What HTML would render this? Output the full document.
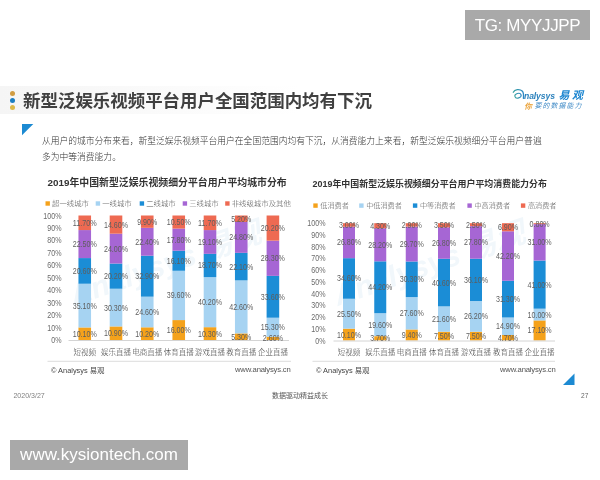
<!DOCTYPE html>
<html lang="zh"><head><meta charset="utf-8"><title>slide</title>
<style>
html,body{margin:0;padding:0;background:#fff;}
body{width:600px;height:480px;position:relative;overflow:hidden;font-family:"Liberation Sans","Noto Sans CJK SC",sans-serif;}
.abs{position:absolute;white-space:nowrap;}
.badge{position:absolute;background:#a9a9a9;color:#fff;font-size:17px;}
svg text{font-family:"Liberation Sans","Noto Sans CJK SC",sans-serif;}
.yl{font-size:8.5px;fill:#6b6b6b;}
.dl{font-size:8.5px;fill:#5e5e5e;}
.cl{font-size:7.5px;fill:#3a3a3a;font-weight:300;}
.lg{font-size:7.4px;fill:#555;font-weight:300;}
</style></head><body>
<div class="abs" style="left:0;top:86px;width:300px;height:28px;background:linear-gradient(90deg,#f5f5f5 0%,#fafafa 50%,#fff 100%);"></div>
<div class="badge" style="left:465px;top:10px;width:125px;height:30px;line-height:31.5px;text-align:center;letter-spacing:-0.35px;">TG: MYYJJPP</div>
<div class="badge" style="left:10px;top:440px;width:178px;height:30px;line-height:30px;text-align:center;">www.kysiontech.com</div>
<div class="abs" style="left:10.4px;top:90.9px;width:5px;height:5px;border-radius:50%;background:#d09c42;"></div>
<div class="abs" style="left:10.4px;top:98.1px;width:5px;height:5px;border-radius:50%;background:#1c7fc2;"></div>
<div class="abs" style="left:10.4px;top:105.2px;width:5px;height:5px;border-radius:50%;background:#dcb94a;"></div>
<div class="abs" style="left:23.1px;top:88px;font-size:17.46px;font-weight:bold;color:#404040;line-height:26px;">新型泛娱乐视频平台用户全国范围内均有下沉</div>
<div class="abs" style="left:42px;top:133px;font-size:8.78px;font-weight:300;color:#303030;line-height:16px;">从用户的城市分布来看，新型泛娱乐视频平台用户在全国范围内均有下沉，从消费能力上来看，新型泛娱乐视频细分平台用户普遍<br>多为中等消费能力。</div>
<div class="abs" style="left:47.5px;top:175px;font-size:9.9px;font-weight:bold;color:#333;line-height:15px;">2019年中国新型泛娱乐视频细分平台用户平均城市分布</div>
<div class="abs" style="left:312.5px;top:176.5px;font-size:8.95px;font-weight:bold;color:#333;line-height:15px;">2019年中国新型泛娱乐视频细分平台用户平均消费能力分布</div>
<div class="abs" style="left:51px;top:364.5px;font-size:7.4px;color:#444;line-height:12px;">© Analysys 易观</div>
<div class="abs" style="left:235px;top:364px;font-size:7.7px;letter-spacing:-0.2px;color:#555;line-height:12px;">www.analysys.cn</div>
<div class="abs" style="left:316px;top:364.5px;font-size:7.4px;color:#444;line-height:12px;">© Analysys 易观</div>
<div class="abs" style="left:500px;top:364px;font-size:7.7px;letter-spacing:-0.2px;color:#555;line-height:12px;">www.analysys.cn</div>
<div class="abs" style="left:13.4px;top:390px;font-size:7.05px;color:#808080;line-height:11px;">2020/3/27</div>
<div class="abs" style="left:272px;top:390px;font-size:7px;color:#555;line-height:11px;">数据驱动精益成长</div>
<div class="abs" style="left:581px;top:390px;font-size:6.6px;color:#666;line-height:11px;">27</div>
<svg class="abs" style="left:0;top:0" width="600" height="480" viewBox="0 0 600 480">
<defs><linearGradient id="sw" x1="0" y1="0" x2="1" y2="0"><stop offset="0" stop-color="#3aa3a0"/><stop offset="1" stop-color="#2b86c4"/></linearGradient></defs>
<path d="M513.3,92.2 C514.6,89.4 519.6,88.7 522.2,91 C523.8,92.6 523.7,95.6 523.4,98.4" fill="none" stroke="url(#sw)" stroke-width="1.3" stroke-linecap="round"/>
<ellipse cx="518" cy="95.7" rx="3.2" ry="2.3" transform="rotate(-18 518 95.7)" fill="none" stroke="url(#sw)" stroke-width="1.1"/>
<text x="524" y="98.6" style="font-size:8.6px;font-style:italic;font-weight:bold;fill:#2c82bd;letter-spacing:-0.1px">nalysys</text>
<text x="558.5" y="99.2" style="font-size:11px;font-style:italic;font-weight:bold;fill:#1d86d0;letter-spacing:2.4px">易观</text>
<text x="524.3" y="108.6" style="font-size:7.6px;font-style:italic;font-weight:bold;fill:#eba43c">你</text>
<text x="534.6" y="108.4" style="font-size:6.9px;font-style:italic;fill:#3f8ac6;letter-spacing:1.1px">要的数据能力</text>
<polygon points="22,124 33.3,124 22,135.3" fill="#1c8ad2"/>
<polygon points="563,385 574.5,385 574.5,373.5" fill="#1c8ad2"/>
<line x1="47.5" x2="291" y1="361.3" y2="361.3" stroke="#dcdcdc" stroke-width="1"/>
<line x1="312.5" x2="555" y1="361.3" y2="361.3" stroke="#dcdcdc" stroke-width="1"/>
<text transform="translate(74,306) rotate(-19)" style="font-size:30px;font-style:italic;font-weight:bold;fill:#f1f7fb">Analysys 易观</text>
<text transform="translate(338,306) rotate(-19)" style="font-size:30px;font-style:italic;font-weight:bold;fill:#f1f7fb">Analysys 易观</text>
<rect x="45.5" y="201.3" width="4.4" height="4.4" fill="#f5a21b"/>
<text x="52.0" y="206.0" class="lg" style="font-size:7.4px">超一线城市</text>
<rect x="95.7" y="201.3" width="4.4" height="4.4" fill="#a6d3f2"/>
<text x="102.2" y="206.0" class="lg" style="font-size:7.4px">一线城市</text>
<rect x="139.70000000000002" y="201.3" width="4.4" height="4.4" fill="#1b8dd6"/>
<text x="146.20000000000002" y="206.0" class="lg" style="font-size:7.4px">二线城市</text>
<rect x="182.70000000000002" y="201.3" width="4.4" height="4.4" fill="#a666d4"/>
<text x="189.20000000000002" y="206.0" class="lg" style="font-size:7.4px">三线城市</text>
<rect x="225.20000000000002" y="201.3" width="4.4" height="4.4" fill="#ee6a52"/>
<text x="231.70000000000002" y="206.0" class="lg" style="font-size:7.4px">非线级城市及其他</text>
<rect x="313.29999999999995" y="203.4" width="4.4" height="4.4" fill="#f5a21b"/>
<text x="320.29999999999995" y="207.6" class="lg" style="font-size:7.15px">低消费者</text>
<rect x="359.2" y="203.4" width="4.4" height="4.4" fill="#a6d3f2"/>
<text x="366.2" y="207.6" class="lg" style="font-size:7.15px">中低消费者</text>
<rect x="412.9" y="203.4" width="4.4" height="4.4" fill="#1b8dd6"/>
<text x="419.9" y="207.6" class="lg" style="font-size:7.15px">中等消费者</text>
<rect x="467.4" y="203.4" width="4.4" height="4.4" fill="#a666d4"/>
<text x="474.4" y="207.6" class="lg" style="font-size:7.15px">中高消费者</text>
<rect x="520.9" y="203.4" width="4.4" height="4.4" fill="#ee6a52"/>
<text x="527.9" y="207.6" class="lg" style="font-size:7.15px">高消费者</text>
<text x="61.5" y="343.00" class="yl" text-anchor="end" textLength="10.26" lengthAdjust="spacingAndGlyphs">0%</text>
<text x="61.5" y="330.55" class="yl" text-anchor="end" textLength="14.21" lengthAdjust="spacingAndGlyphs">10%</text>
<text x="61.5" y="318.10" class="yl" text-anchor="end" textLength="14.21" lengthAdjust="spacingAndGlyphs">20%</text>
<text x="61.5" y="305.65" class="yl" text-anchor="end" textLength="14.21" lengthAdjust="spacingAndGlyphs">30%</text>
<text x="61.5" y="293.20" class="yl" text-anchor="end" textLength="14.21" lengthAdjust="spacingAndGlyphs">40%</text>
<text x="61.5" y="280.75" class="yl" text-anchor="end" textLength="14.21" lengthAdjust="spacingAndGlyphs">50%</text>
<text x="61.5" y="268.30" class="yl" text-anchor="end" textLength="14.21" lengthAdjust="spacingAndGlyphs">60%</text>
<text x="61.5" y="255.85" class="yl" text-anchor="end" textLength="14.21" lengthAdjust="spacingAndGlyphs">70%</text>
<text x="61.5" y="243.40" class="yl" text-anchor="end" textLength="14.21" lengthAdjust="spacingAndGlyphs">80%</text>
<text x="61.5" y="230.95" class="yl" text-anchor="end" textLength="14.21" lengthAdjust="spacingAndGlyphs">90%</text>
<text x="61.5" y="218.50" class="yl" text-anchor="end" textLength="18.15" lengthAdjust="spacingAndGlyphs">100%</text>
<rect x="78.45" y="327.43" width="12.6" height="12.57" fill="#f5a21b"/>
<rect x="78.45" y="283.73" width="12.6" height="43.70" fill="#a6d3f2"/>
<rect x="78.45" y="258.08" width="12.6" height="25.65" fill="#1b8dd6"/>
<rect x="78.45" y="230.07" width="12.6" height="28.01" fill="#a666d4"/>
<rect x="78.45" y="215.50" width="12.6" height="14.57" fill="#ee6a52"/>
<rect x="109.70" y="326.43" width="12.6" height="13.57" fill="#f5a21b"/>
<rect x="109.70" y="288.71" width="12.6" height="37.72" fill="#a6d3f2"/>
<rect x="109.70" y="263.56" width="12.6" height="25.15" fill="#1b8dd6"/>
<rect x="109.70" y="233.68" width="12.6" height="29.88" fill="#a666d4"/>
<rect x="109.70" y="215.50" width="12.6" height="18.18" fill="#ee6a52"/>
<rect x="140.95" y="327.30" width="12.6" height="12.70" fill="#f5a21b"/>
<rect x="140.95" y="296.67" width="12.6" height="30.63" fill="#a6d3f2"/>
<rect x="140.95" y="255.71" width="12.6" height="40.96" fill="#1b8dd6"/>
<rect x="140.95" y="227.83" width="12.6" height="27.89" fill="#a666d4"/>
<rect x="140.95" y="215.50" width="12.6" height="12.33" fill="#ee6a52"/>
<rect x="172.45" y="320.08" width="12.6" height="19.92" fill="#f5a21b"/>
<rect x="172.45" y="270.78" width="12.6" height="49.30" fill="#a6d3f2"/>
<rect x="172.45" y="250.73" width="12.6" height="20.04" fill="#1b8dd6"/>
<rect x="172.45" y="228.57" width="12.6" height="22.16" fill="#a666d4"/>
<rect x="172.45" y="215.50" width="12.6" height="13.07" fill="#ee6a52"/>
<rect x="203.70" y="327.18" width="12.6" height="12.82" fill="#f5a21b"/>
<rect x="203.70" y="277.13" width="12.6" height="50.05" fill="#a6d3f2"/>
<rect x="203.70" y="253.85" width="12.6" height="23.28" fill="#1b8dd6"/>
<rect x="203.70" y="230.07" width="12.6" height="23.78" fill="#a666d4"/>
<rect x="203.70" y="215.50" width="12.6" height="14.57" fill="#ee6a52"/>
<rect x="234.95" y="333.40" width="12.6" height="6.60" fill="#f5a21b"/>
<rect x="234.95" y="280.36" width="12.6" height="53.04" fill="#a6d3f2"/>
<rect x="234.95" y="252.85" width="12.6" height="27.51" fill="#1b8dd6"/>
<rect x="234.95" y="221.97" width="12.6" height="30.88" fill="#a666d4"/>
<rect x="234.95" y="215.50" width="12.6" height="6.47" fill="#ee6a52"/>
<rect x="266.60" y="336.76" width="12.6" height="3.24" fill="#f5a21b"/>
<rect x="266.60" y="317.71" width="12.6" height="19.05" fill="#a6d3f2"/>
<rect x="266.60" y="275.88" width="12.6" height="41.83" fill="#1b8dd6"/>
<rect x="266.60" y="240.65" width="12.6" height="35.23" fill="#a666d4"/>
<rect x="266.60" y="215.50" width="12.6" height="25.15" fill="#ee6a52"/>
<line x1="68.5" x2="289" y1="340.5" y2="340.5" stroke="#d4d4d4" stroke-width="1"/>
<text x="84.75" y="336.71" class="dl" text-anchor="middle" textLength="24.08" lengthAdjust="spacingAndGlyphs">10.10%</text>
<text x="84.75" y="308.58" class="dl" text-anchor="middle" textLength="24.08" lengthAdjust="spacingAndGlyphs">35.10%</text>
<text x="84.75" y="273.90" class="dl" text-anchor="middle" textLength="24.08" lengthAdjust="spacingAndGlyphs">20.60%</text>
<text x="84.75" y="247.07" class="dl" text-anchor="middle" textLength="24.08" lengthAdjust="spacingAndGlyphs">22.50%</text>
<text x="84.75" y="225.78" class="dl" text-anchor="middle" textLength="24.08" lengthAdjust="spacingAndGlyphs">11.70%</text>
<text x="84.75" y="355" class="cl" text-anchor="middle">短视频</text>
<text x="116.00" y="336.21" class="dl" text-anchor="middle" textLength="24.08" lengthAdjust="spacingAndGlyphs">10.90%</text>
<text x="116.00" y="310.57" class="dl" text-anchor="middle" textLength="24.08" lengthAdjust="spacingAndGlyphs">30.30%</text>
<text x="116.00" y="279.13" class="dl" text-anchor="middle" textLength="24.08" lengthAdjust="spacingAndGlyphs">20.20%</text>
<text x="116.00" y="251.62" class="dl" text-anchor="middle" textLength="24.08" lengthAdjust="spacingAndGlyphs">24.00%</text>
<text x="116.00" y="227.59" class="dl" text-anchor="middle" textLength="24.08" lengthAdjust="spacingAndGlyphs">14.60%</text>
<text x="116.00" y="355" class="cl" text-anchor="middle">娱乐直播</text>
<text x="147.25" y="336.65" class="dl" text-anchor="middle" textLength="24.08" lengthAdjust="spacingAndGlyphs">10.20%</text>
<text x="147.25" y="314.99" class="dl" text-anchor="middle" textLength="24.08" lengthAdjust="spacingAndGlyphs">24.60%</text>
<text x="147.25" y="279.19" class="dl" text-anchor="middle" textLength="24.08" lengthAdjust="spacingAndGlyphs">32.90%</text>
<text x="147.25" y="244.77" class="dl" text-anchor="middle" textLength="24.08" lengthAdjust="spacingAndGlyphs">22.40%</text>
<text x="147.25" y="224.66" class="dl" text-anchor="middle" textLength="20.13" lengthAdjust="spacingAndGlyphs">9.90%</text>
<text x="147.25" y="355" class="cl" text-anchor="middle">电商直播</text>
<text x="178.75" y="333.04" class="dl" text-anchor="middle" textLength="24.08" lengthAdjust="spacingAndGlyphs">16.00%</text>
<text x="178.75" y="298.43" class="dl" text-anchor="middle" textLength="24.08" lengthAdjust="spacingAndGlyphs">39.60%</text>
<text x="178.75" y="263.76" class="dl" text-anchor="middle" textLength="24.08" lengthAdjust="spacingAndGlyphs">16.10%</text>
<text x="178.75" y="242.65" class="dl" text-anchor="middle" textLength="24.08" lengthAdjust="spacingAndGlyphs">17.80%</text>
<text x="178.75" y="225.04" class="dl" text-anchor="middle" textLength="24.08" lengthAdjust="spacingAndGlyphs">10.50%</text>
<text x="178.75" y="355" class="cl" text-anchor="middle">体育直播</text>
<text x="210.00" y="336.59" class="dl" text-anchor="middle" textLength="24.08" lengthAdjust="spacingAndGlyphs">10.30%</text>
<text x="210.00" y="305.15" class="dl" text-anchor="middle" textLength="24.08" lengthAdjust="spacingAndGlyphs">40.20%</text>
<text x="210.00" y="268.49" class="dl" text-anchor="middle" textLength="24.08" lengthAdjust="spacingAndGlyphs">18.70%</text>
<text x="210.00" y="244.96" class="dl" text-anchor="middle" textLength="24.08" lengthAdjust="spacingAndGlyphs">19.10%</text>
<text x="210.00" y="225.78" class="dl" text-anchor="middle" textLength="24.08" lengthAdjust="spacingAndGlyphs">11.70%</text>
<text x="210.00" y="355" class="cl" text-anchor="middle">游戏直播</text>
<text x="241.25" y="339.70" class="dl" text-anchor="middle" textLength="20.13" lengthAdjust="spacingAndGlyphs">5.30%</text>
<text x="241.25" y="309.88" class="dl" text-anchor="middle" textLength="24.08" lengthAdjust="spacingAndGlyphs">42.60%</text>
<text x="241.25" y="269.61" class="dl" text-anchor="middle" textLength="24.08" lengthAdjust="spacingAndGlyphs">22.10%</text>
<text x="241.25" y="240.41" class="dl" text-anchor="middle" textLength="24.08" lengthAdjust="spacingAndGlyphs">24.80%</text>
<text x="241.25" y="221.74" class="dl" text-anchor="middle" textLength="20.13" lengthAdjust="spacingAndGlyphs">5.20%</text>
<text x="241.25" y="355" class="cl" text-anchor="middle">教育直播</text>
<text x="272.90" y="341.38" class="dl" text-anchor="middle" textLength="20.13" lengthAdjust="spacingAndGlyphs">2.60%</text>
<text x="272.90" y="330.24" class="dl" text-anchor="middle" textLength="24.08" lengthAdjust="spacingAndGlyphs">15.30%</text>
<text x="272.90" y="299.80" class="dl" text-anchor="middle" textLength="24.08" lengthAdjust="spacingAndGlyphs">33.60%</text>
<text x="272.90" y="261.27" class="dl" text-anchor="middle" textLength="24.08" lengthAdjust="spacingAndGlyphs">28.30%</text>
<text x="272.90" y="231.07" class="dl" text-anchor="middle" textLength="24.08" lengthAdjust="spacingAndGlyphs">20.20%</text>
<text x="272.90" y="355" class="cl" text-anchor="middle">企业直播</text>
<text x="325.5" y="343.50" class="yl" text-anchor="end" textLength="10.26" lengthAdjust="spacingAndGlyphs">0%</text>
<text x="325.5" y="331.77" class="yl" text-anchor="end" textLength="14.21" lengthAdjust="spacingAndGlyphs">10%</text>
<text x="325.5" y="320.04" class="yl" text-anchor="end" textLength="14.21" lengthAdjust="spacingAndGlyphs">20%</text>
<text x="325.5" y="308.31" class="yl" text-anchor="end" textLength="14.21" lengthAdjust="spacingAndGlyphs">30%</text>
<text x="325.5" y="296.58" class="yl" text-anchor="end" textLength="14.21" lengthAdjust="spacingAndGlyphs">40%</text>
<text x="325.5" y="284.85" class="yl" text-anchor="end" textLength="14.21" lengthAdjust="spacingAndGlyphs">50%</text>
<text x="325.5" y="273.12" class="yl" text-anchor="end" textLength="14.21" lengthAdjust="spacingAndGlyphs">60%</text>
<text x="325.5" y="261.39" class="yl" text-anchor="end" textLength="14.21" lengthAdjust="spacingAndGlyphs">70%</text>
<text x="325.5" y="249.66" class="yl" text-anchor="end" textLength="14.21" lengthAdjust="spacingAndGlyphs">80%</text>
<text x="325.5" y="237.93" class="yl" text-anchor="end" textLength="14.21" lengthAdjust="spacingAndGlyphs">90%</text>
<text x="325.5" y="226.20" class="yl" text-anchor="end" textLength="18.15" lengthAdjust="spacingAndGlyphs">100%</text>
<rect x="343.00" y="328.65" width="12" height="11.85" fill="#f5a21b"/>
<rect x="343.00" y="298.74" width="12" height="29.91" fill="#a6d3f2"/>
<rect x="343.00" y="258.16" width="12" height="40.59" fill="#1b8dd6"/>
<rect x="343.00" y="226.72" width="12" height="31.44" fill="#a666d4"/>
<rect x="343.00" y="223.20" width="12" height="3.52" fill="#ee6a52"/>
<rect x="374.25" y="336.16" width="12" height="4.34" fill="#f5a21b"/>
<rect x="374.25" y="313.17" width="12" height="22.99" fill="#a6d3f2"/>
<rect x="374.25" y="261.32" width="12" height="51.85" fill="#1b8dd6"/>
<rect x="374.25" y="228.24" width="12" height="33.08" fill="#a666d4"/>
<rect x="374.25" y="223.20" width="12" height="5.04" fill="#ee6a52"/>
<rect x="405.75" y="329.46" width="12" height="11.04" fill="#f5a21b"/>
<rect x="405.75" y="297.06" width="12" height="32.41" fill="#a6d3f2"/>
<rect x="405.75" y="261.48" width="12" height="35.58" fill="#1b8dd6"/>
<rect x="405.75" y="226.61" width="12" height="34.87" fill="#a666d4"/>
<rect x="405.75" y="223.20" width="12" height="3.41" fill="#ee6a52"/>
<rect x="438.00" y="331.70" width="12" height="8.80" fill="#f5a21b"/>
<rect x="438.00" y="306.37" width="12" height="25.34" fill="#a6d3f2"/>
<rect x="438.00" y="258.74" width="12" height="47.62" fill="#1b8dd6"/>
<rect x="438.00" y="227.31" width="12" height="31.44" fill="#a666d4"/>
<rect x="438.00" y="223.20" width="12" height="4.11" fill="#ee6a52"/>
<rect x="470.00" y="331.71" width="12" height="8.79" fill="#f5a21b"/>
<rect x="470.00" y="301.01" width="12" height="30.70" fill="#a6d3f2"/>
<rect x="470.00" y="258.71" width="12" height="42.30" fill="#1b8dd6"/>
<rect x="470.00" y="226.13" width="12" height="32.58" fill="#a666d4"/>
<rect x="470.00" y="223.20" width="12" height="2.93" fill="#ee6a52"/>
<rect x="502.00" y="334.99" width="12" height="5.51" fill="#f5a21b"/>
<rect x="502.00" y="317.51" width="12" height="17.48" fill="#a6d3f2"/>
<rect x="502.00" y="280.79" width="12" height="36.71" fill="#1b8dd6"/>
<rect x="502.00" y="231.29" width="12" height="49.50" fill="#a666d4"/>
<rect x="502.00" y="223.20" width="12" height="8.09" fill="#ee6a52"/>
<rect x="533.60" y="320.42" width="12" height="20.08" fill="#f5a21b"/>
<rect x="533.60" y="308.68" width="12" height="11.74" fill="#a6d3f2"/>
<rect x="533.60" y="260.54" width="12" height="48.14" fill="#1b8dd6"/>
<rect x="533.60" y="224.14" width="12" height="36.40" fill="#a666d4"/>
<rect x="533.60" y="223.20" width="12" height="0.94" fill="#ee6a52"/>
<line x1="333.5" x2="555" y1="341.0" y2="341.0" stroke="#d4d4d4" stroke-width="1"/>
<text x="349.00" y="337.58" class="dl" text-anchor="middle" textLength="24.08" lengthAdjust="spacingAndGlyphs">10.10%</text>
<text x="349.00" y="316.70" class="dl" text-anchor="middle" textLength="24.08" lengthAdjust="spacingAndGlyphs">25.50%</text>
<text x="349.00" y="281.45" class="dl" text-anchor="middle" textLength="24.08" lengthAdjust="spacingAndGlyphs">34.60%</text>
<text x="349.00" y="245.44" class="dl" text-anchor="middle" textLength="24.08" lengthAdjust="spacingAndGlyphs">26.80%</text>
<text x="349.00" y="227.96" class="dl" text-anchor="middle" textLength="20.13" lengthAdjust="spacingAndGlyphs">3.00%</text>
<text x="349.00" y="355" class="cl" text-anchor="middle">短视频</text>
<text x="380.25" y="341.33" class="dl" text-anchor="middle" textLength="20.13" lengthAdjust="spacingAndGlyphs">3.70%</text>
<text x="380.25" y="327.66" class="dl" text-anchor="middle" textLength="24.08" lengthAdjust="spacingAndGlyphs">19.60%</text>
<text x="380.25" y="290.25" class="dl" text-anchor="middle" textLength="24.08" lengthAdjust="spacingAndGlyphs">44.20%</text>
<text x="380.25" y="247.78" class="dl" text-anchor="middle" textLength="24.08" lengthAdjust="spacingAndGlyphs">28.20%</text>
<text x="380.25" y="228.72" class="dl" text-anchor="middle" textLength="20.13" lengthAdjust="spacingAndGlyphs">4.30%</text>
<text x="380.25" y="355" class="cl" text-anchor="middle">娱乐直播</text>
<text x="411.75" y="337.98" class="dl" text-anchor="middle" textLength="20.13" lengthAdjust="spacingAndGlyphs">9.40%</text>
<text x="411.75" y="316.26" class="dl" text-anchor="middle" textLength="24.08" lengthAdjust="spacingAndGlyphs">27.60%</text>
<text x="411.75" y="282.27" class="dl" text-anchor="middle" textLength="24.08" lengthAdjust="spacingAndGlyphs">30.30%</text>
<text x="411.75" y="247.04" class="dl" text-anchor="middle" textLength="24.08" lengthAdjust="spacingAndGlyphs">29.70%</text>
<text x="411.75" y="227.90" class="dl" text-anchor="middle" textLength="20.13" lengthAdjust="spacingAndGlyphs">2.90%</text>
<text x="411.75" y="355" class="cl" text-anchor="middle">电商直播</text>
<text x="444.00" y="339.10" class="dl" text-anchor="middle" textLength="20.13" lengthAdjust="spacingAndGlyphs">7.50%</text>
<text x="444.00" y="322.03" class="dl" text-anchor="middle" textLength="24.08" lengthAdjust="spacingAndGlyphs">21.60%</text>
<text x="444.00" y="285.55" class="dl" text-anchor="middle" textLength="24.08" lengthAdjust="spacingAndGlyphs">40.60%</text>
<text x="444.00" y="246.02" class="dl" text-anchor="middle" textLength="24.08" lengthAdjust="spacingAndGlyphs">26.80%</text>
<text x="444.00" y="228.25" class="dl" text-anchor="middle" textLength="20.13" lengthAdjust="spacingAndGlyphs">3.50%</text>
<text x="444.00" y="355" class="cl" text-anchor="middle">体育直播</text>
<text x="476.00" y="339.11" class="dl" text-anchor="middle" textLength="20.13" lengthAdjust="spacingAndGlyphs">7.50%</text>
<text x="476.00" y="319.36" class="dl" text-anchor="middle" textLength="24.08" lengthAdjust="spacingAndGlyphs">26.20%</text>
<text x="476.00" y="282.86" class="dl" text-anchor="middle" textLength="24.08" lengthAdjust="spacingAndGlyphs">36.10%</text>
<text x="476.00" y="245.42" class="dl" text-anchor="middle" textLength="24.08" lengthAdjust="spacingAndGlyphs">27.80%</text>
<text x="476.00" y="227.66" class="dl" text-anchor="middle" textLength="20.13" lengthAdjust="spacingAndGlyphs">2.50%</text>
<text x="476.00" y="355" class="cl" text-anchor="middle">游戏直播</text>
<text x="508.00" y="340.74" class="dl" text-anchor="middle" textLength="20.13" lengthAdjust="spacingAndGlyphs">4.70%</text>
<text x="508.00" y="329.25" class="dl" text-anchor="middle" textLength="24.08" lengthAdjust="spacingAndGlyphs">14.90%</text>
<text x="508.00" y="302.15" class="dl" text-anchor="middle" textLength="24.08" lengthAdjust="spacingAndGlyphs">31.30%</text>
<text x="508.00" y="259.04" class="dl" text-anchor="middle" textLength="24.08" lengthAdjust="spacingAndGlyphs">42.20%</text>
<text x="508.00" y="230.25" class="dl" text-anchor="middle" textLength="20.13" lengthAdjust="spacingAndGlyphs">6.90%</text>
<text x="508.00" y="355" class="cl" text-anchor="middle">教育直播</text>
<text x="539.60" y="333.46" class="dl" text-anchor="middle" textLength="24.08" lengthAdjust="spacingAndGlyphs">17.10%</text>
<text x="539.60" y="317.55" class="dl" text-anchor="middle" textLength="24.08" lengthAdjust="spacingAndGlyphs">10.00%</text>
<text x="539.60" y="287.61" class="dl" text-anchor="middle" textLength="24.08" lengthAdjust="spacingAndGlyphs">41.00%</text>
<text x="539.60" y="245.34" class="dl" text-anchor="middle" textLength="24.08" lengthAdjust="spacingAndGlyphs">31.00%</text>
<text x="539.60" y="226.67" class="dl" text-anchor="middle" textLength="20.13" lengthAdjust="spacingAndGlyphs">0.80%</text>
<text x="539.60" y="355" class="cl" text-anchor="middle">企业直播</text>
</svg>
</body></html>
